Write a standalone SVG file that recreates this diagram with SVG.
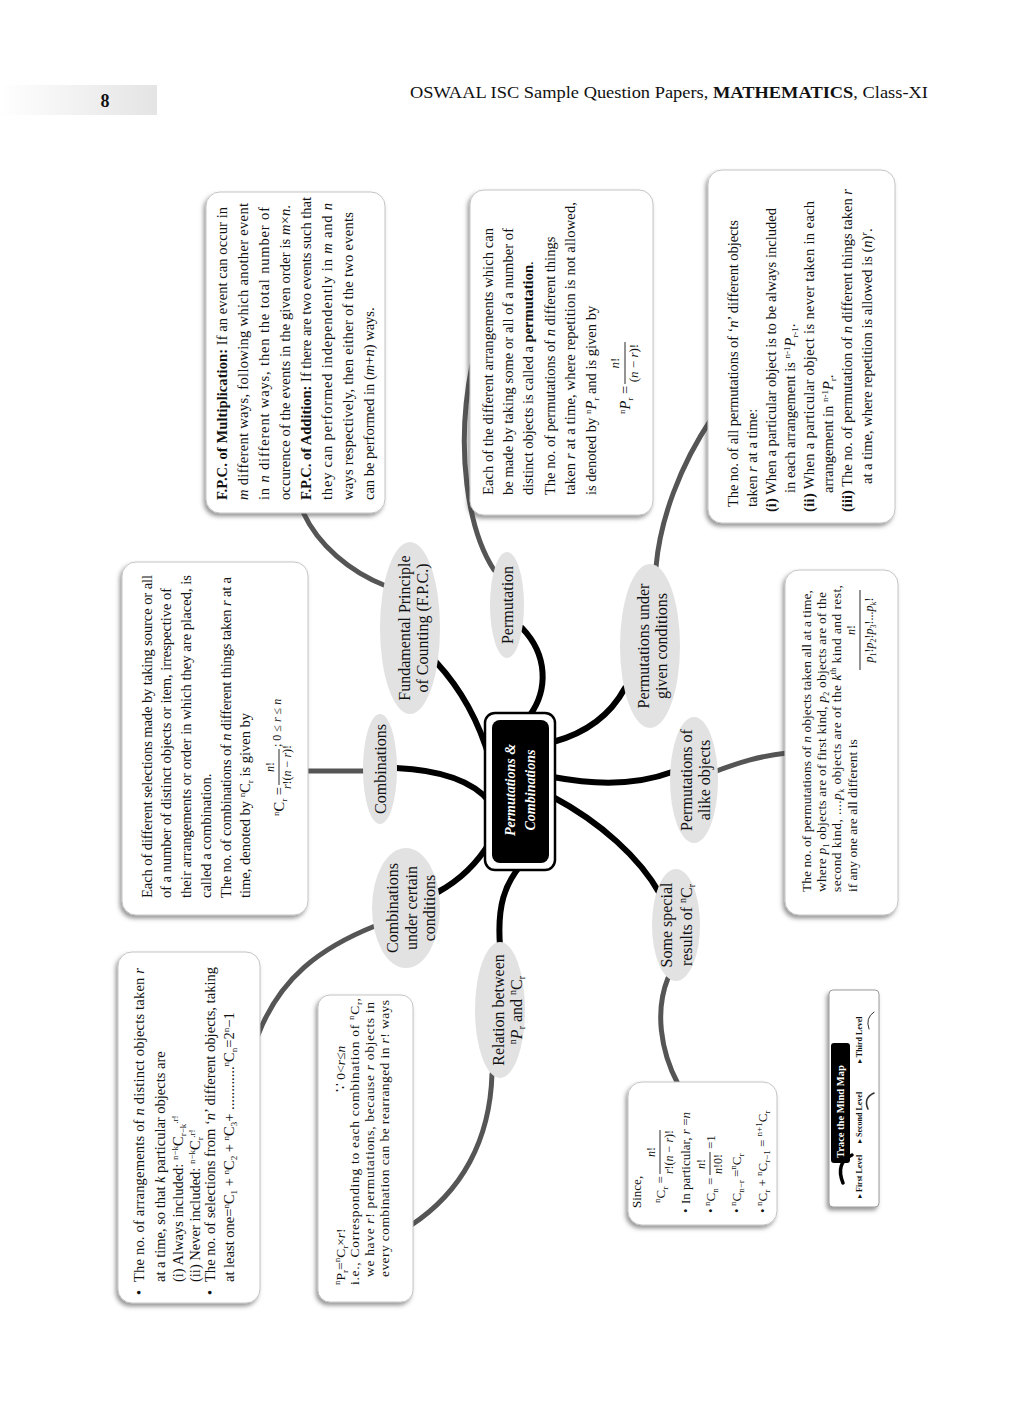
<svg xmlns="http://www.w3.org/2000/svg" width="1024" height="1408" viewBox="0 0 1024 1408">
<defs>
<linearGradient id="hg" x1="0" y1="0" x2="1" y2="0"><stop offset="0" stop-color="#ffffff"/><stop offset="1" stop-color="#e4e4e4"/></linearGradient>
<filter id="sh" x="-15%" y="-15%" width="130%" height="130%"><feDropShadow dx="-2" dy="3" stdDeviation="2" flood-color="#444" flood-opacity="0.55"/></filter>
<style>
text{font-family:'Liberation Serif','DejaVu Serif',serif;fill:#111}
.f145{font-size:14.5px}.f135{font-size:13.5px}.f13{font-size:13px}.f12{font-size:12px}
.b{font-weight:bold}.i{font-style:italic}.mid{text-anchor:middle}
.el{font-size:16px;text-anchor:middle}
.box{fill:#fff;stroke:#c4c4c4;stroke-width:1;filter:url(#sh)}
.node{fill:#e2e2e2}
.bk{fill:none;stroke:#000;stroke-width:6;stroke-linecap:round}
.gr{fill:none;stroke:#555;stroke-width:5;stroke-linecap:round}
.frac{stroke:#111;stroke-width:0.9}
</style>
</defs>
<rect width="1024" height="1408" fill="#fff"/>

<g id="header">
<rect x="0" y="85" width="157" height="30" fill="url(#hg)"/>
<text x="105" y="107" font-size="18" font-weight="bold" text-anchor="middle">8</text>
<text x="410" y="98" font-size="17" textLength="518" lengthAdjust="spacingAndGlyphs">OSWAAL ISC Sample Question Papers, <tspan font-weight="bold">MATHEMATICS</tspan>, Class-XI</text>
</g>

<g id="connectors">
<path class="gr" d="M 386 586 C 350 572, 318 545, 303 512"/>
<path class="gr" d="M 494 570 C 468 530, 455 450, 472 365"/>
<path class="gr" d="M 656 567 C 660 520, 680 465, 712 418"/>
<path class="gr" d="M 366 771 L 306 771"/>
<path class="gr" d="M 714 772 C 740 762, 760 756, 787 753"/>
<path class="gr" d="M 375 926 C 320 948, 280 978, 258 1035"/>
<path class="gr" d="M 492 1074 C 490 1140, 462 1192, 410 1226"/>
<path class="gr" d="M 668 978 C 655 1010, 660 1050, 678 1084"/>
<path class="bk" d="M 436 662 C 462 690, 480 725, 490 760"/>
<path class="bk" d="M 522 628 C 548 655, 548 690, 530 715"/>
<path class="bk" d="M 553 742 C 590 732, 612 712, 625 688"/>
<path class="bk" d="M 553 777 C 600 786, 640 784, 672 772"/>
<path class="bk" d="M 553 797 C 600 822, 640 858, 660 894"/>
<path class="bk" d="M 396 768 C 440 770, 472 780, 490 802"/>
<path class="bk" d="M 438 892 C 460 880, 478 862, 490 842"/>
<path class="bk" d="M 500 946 C 497 905, 505 885, 520 866"/>
</g>

<g id="center">
<rect x="485" y="713" width="70" height="157" rx="10" fill="#fff" stroke="#000" stroke-width="2.5"/>
<rect x="492" y="720" width="57" height="143" rx="8" fill="#000"/>
<g transform="matrix(0,-1,1,0,0,1408)">
<text x="618" y="515" class="mid b i" font-size="14" style="fill:#fff">Permutations &amp;</text>
<text x="618" y="535" class="mid b i" font-size="14" style="fill:#fff">Combinations</text>
</g>
</g>

<g id="node-fpc">
<ellipse class="node" cx="410" cy="628" rx="30" ry="86"/>
<g transform="matrix(0,-1,1,0,0,1408)">
<text class="el" x="780" y="410">Fundamental Principle</text>
<text class="el" x="780" y="428">of Counting (F.P.C.)</text>
</g>
</g>

<g id="node-permutation">
<ellipse class="node" cx="507" cy="605" rx="17" ry="53"/>
<g transform="matrix(0,-1,1,0,0,1408)">
<text class="el" x="803" y="513">Permutation</text>
</g>
</g>

<g id="node-perm-cond">
<ellipse class="node" cx="650" cy="646" rx="30" ry="82"/>
<g transform="matrix(0,-1,1,0,0,1408)">
<text class="el" x="762" y="649">Permutations under</text>
<text class="el" x="762" y="667">given conditions</text>
</g>
</g>

<g id="node-combinations">
<ellipse class="node" cx="380" cy="769" rx="17" ry="55"/>
<g transform="matrix(0,-1,1,0,0,1408)">
<text class="el" x="639" y="386">Combinations</text>
</g>
</g>

<g id="node-alike">
<ellipse class="node" cx="694" cy="780" rx="24" ry="63"/>
<g transform="matrix(0,-1,1,0,0,1408)">
<text class="el" x="628" y="692">Permutations of</text>
<text class="el" x="628" y="710">alike objects</text>
</g>
</g>

<g id="node-comb-cond">
<ellipse class="node" cx="406" cy="908" rx="34" ry="60"/>
<g transform="matrix(0,-1,1,0,0,1408)">
<text class="el" x="500" y="398">Combinations</text>
<text class="el" x="500" y="417">under certain</text>
<text class="el" x="500" y="435">conditions</text>
</g>
</g>

<g id="node-relation">
<ellipse class="node" cx="500" cy="1010" rx="25" ry="68"/>
<g transform="matrix(0,-1,1,0,0,1408)">
<text class="el" x="398" y="504">Relation between</text>
<text class="el" x="398" y="522"><tspan font-size="10" dy="-6">n</tspan><tspan class="i" dy="6">P</tspan><tspan font-size="10" dy="3">r</tspan><tspan dy="-3"> and </tspan><tspan font-size="10" dy="-6">n</tspan><tspan dy="6">C</tspan><tspan font-size="10" dy="3">r</tspan></text>
</g>
</g>

<g id="node-special">
<ellipse class="node" cx="676" cy="925" rx="24" ry="56"/>
<g transform="matrix(0,-1,1,0,0,1408)">
<text class="el" x="483" y="672">Some special</text>
<text class="el" x="483" y="692">results of <tspan font-size="10" dy="-6">n</tspan><tspan dy="6">C</tspan><tspan font-size="10" dy="3">r</tspan></text>
</g>
</g>

<g id="box-fpc">
<rect class="box" x="206" y="192" width="179" height="321" rx="14"/>
<g transform="matrix(0,-1,1,0,0,1408)" class="f145">
<text x="908" y="227" textLength="293"><tspan class="b">F.P.C. of Multiplication:</tspan> If an event can occur in</text>
<text x="908" y="248" textLength="297"><tspan class="i">m</tspan> different ways, following which another event</text>
<text x="908" y="269" textLength="293">in <tspan class="i">n</tspan> different ways, then the total number of</text>
<text x="908" y="290" textLength="295">occurence of the events in the given order is <tspan class="i">m</tspan>×<tspan class="i">n</tspan>.</text>
<text x="908" y="311" textLength="303"><tspan class="b">F.P.C. of Addition:</tspan> If there are two events such that</text>
<text x="908" y="332" textLength="297">they can performed independently in <tspan class="i">m</tspan> and <tspan class="i">n</tspan></text>
<text x="908" y="353" textLength="288">ways respectively, then either of the two events</text>
<text x="908" y="374">can be performed in (<tspan class="i">m</tspan>+<tspan class="i">n</tspan>) ways.</text>
</g>
</g>

<g id="box-permutation">
<rect class="box" x="470" y="190" width="183" height="325" rx="14"/>
<g transform="matrix(0,-1,1,0,0,1408)" class="f145">
<text x="913" y="493" textLength="267">Each of the different arrangements which can</text>
<text x="913" y="513" textLength="267">be made by taking some or all of a number of</text>
<text x="913" y="533">distinct objects is called a <tspan class="b">permutation</tspan>.</text>
<text x="913" y="555">The no. of permutations of <tspan class="i">n</tspan> different things</text>
<text x="913" y="575" textLength="293">taken <tspan class="i">r</tspan> at a time, where repetition is not allowed,</text>
<text x="913" y="596">is denoted by <tspan font-size="9" dy="-5">n</tspan><tspan class="i" dy="5">P</tspan><tspan font-size="9" dy="3">r</tspan><tspan dy="-3"> and is given by</tspan></text>
<text x="994" y="630"><tspan font-size="9" dy="-5">n</tspan><tspan class="i" dy="5">P</tspan><tspan font-size="9" dy="3">r</tspan><tspan dy="-3"> =</tspan></text>
<line class="frac" x1="1024" y1="625" x2="1066" y2="625"/>
<text class="mid" x="1045" y="619" font-size="13"><tspan class="i">n</tspan>!</text>
<text class="mid" x="1045" y="638" font-size="13">(<tspan class="i">n</tspan> − <tspan class="i">r</tspan>)!</text>
</g>
</g>

<g id="box-perm-cond">
<rect class="box" x="708" y="170" width="187" height="353" rx="14"/>
<g transform="matrix(0,-1,1,0,0,1408)" class="f145">
<text x="901" y="738" textLength="287">The no. of all permutations of ‘<tspan class="i">n</tspan>’ different objects</text>
<text x="901" y="757">taken <tspan class="i">r</tspan> at a time:</text>
<text x="896" y="776" textLength="304"><tspan class="b">(i)</tspan> When a particular object is to be always included</text>
<text x="915" y="795">in each arrangement is <tspan font-size="9" dy="-5">n-1</tspan><tspan class="i" dy="5">P</tspan><tspan font-size="9" dy="3">r-1</tspan><tspan dy="-3">.</tspan></text>
<text x="896" y="814" textLength="311"><tspan class="b">(ii)</tspan> When a particular object is never taken in each</text>
<text x="915" y="833">arrangement in <tspan font-size="9" dy="-5">n-1</tspan><tspan class="i" dy="5">P</tspan><tspan font-size="9" dy="3">r</tspan><tspan dy="-3">.</tspan></text>
<text x="896" y="852" textLength="323"><tspan class="b">(iii)</tspan> The no. of permutation of <tspan class="i">n</tspan> different things taken <tspan class="i">r</tspan></text>
<text x="924" y="872">at a time, where repetition is allowed is (<tspan class="i">n</tspan>)<tspan font-size="9" dy="-5" class="i">r</tspan><tspan dy="5">.</tspan></text>
</g>
</g>

<g id="box-combinations">
<rect class="box" x="122" y="562" width="186" height="353" rx="14"/>
<g transform="matrix(0,-1,1,0,0,1408)" class="f145">
<text x="510" y="152" textLength="323">Each of different selections made by taking source or all</text>
<text x="510" y="171" textLength="310">of a number of distinct objects or item, irrespective of</text>
<text x="510" y="191" textLength="323">their arrangements or order in which they are placed, is</text>
<text x="510" y="211">called a combination.</text>
<text x="510" y="231" textLength="321">The no. of combinations of <tspan class="i">n</tspan> different things taken <tspan class="i">r</tspan> at a</text>
<text x="510" y="250">time, denoted by <tspan font-size="9" dy="-5">n</tspan><tspan dy="5">C</tspan><tspan font-size="9" dy="3">r</tspan><tspan dy="-3"> is given by</tspan></text>
<text x="592" y="284"><tspan font-size="9" dy="-5">n</tspan><tspan dy="5">C</tspan><tspan font-size="9" dy="3">r</tspan><tspan dy="-3"> =</tspan></text>
<line class="frac" x1="623" y1="279" x2="659" y2="279"/>
<text class="mid f12" x="641" y="274"><tspan class="i">n</tspan>!</text>
<text class="mid f12" x="641" y="291"><tspan class="i">r</tspan>!(<tspan class="i">n</tspan> − <tspan class="i">r</tspan>)!</text>
<text class="f12" x="661" y="281">; 0 ≤ <tspan class="i">r</tspan> ≤ <tspan class="i">n</tspan></text>
</g>
</g>

<g id="box-alike">
<rect class="box" x="785" y="570" width="113" height="345" rx="14"/>
<g transform="matrix(0,-1,1,0,0,1408)" class="f135">
<text x="516" y="811" textLength="302">The no. of permutations of <tspan class="i">n</tspan> objects taken all at a time,</text>
<text x="516" y="826" textLength="300">where <tspan class="i">p</tspan><tspan font-size="8" dy="3">1</tspan><tspan dy="-3"> objects are of first kind, </tspan><tspan class="i">p</tspan><tspan font-size="8" dy="3">2</tspan><tspan dy="-3"> objects are of the</tspan></text>
<text x="516" y="841" textLength="307">second kind, ....<tspan class="i">p</tspan><tspan font-size="8" dy="3">k</tspan><tspan dy="-3"> objects are of the </tspan><tspan class="i">k</tspan><tspan font-size="8" dy="-5">th</tspan><tspan dy="5"> kind and rest,</tspan></text>
<text x="516" y="857">if any one are all different is</text>
<line class="frac" x1="738" y1="860" x2="818" y2="860"/>
<text class="mid f12" x="778" y="855"><tspan class="i">n</tspan>!</text>
<text class="mid f12" x="778" y="873"><tspan class="i">p</tspan><tspan font-size="8" dy="3">1</tspan><tspan dy="-3">!</tspan><tspan class="i">p</tspan><tspan font-size="8" dy="3">2</tspan><tspan dy="-3">!</tspan><tspan class="i">p</tspan><tspan font-size="8" dy="3">3</tspan><tspan dy="-3">!...</tspan><tspan class="i">p</tspan><tspan font-size="8" dy="3">k</tspan><tspan dy="-3">!</tspan></text>
</g>
</g>

<g id="box-comb-cond">
<rect class="box" x="118" y="952" width="142" height="351" rx="14"/>
<g transform="matrix(0,-1,1,0,0,1408)" class="f145">
<text x="113" y="144">•</text>
<text x="126" y="144" textLength="314">The no. of arrangements of <tspan class="i">n</tspan> distinct objects taken <tspan class="i">r</tspan></text>
<text x="126" y="165">at a time, so that <tspan class="i">k</tspan> particular objects are</text>
<text x="126" y="183">(i) Always included: <tspan font-size="9" dy="-5">n−k</tspan><tspan dy="5">C</tspan><tspan font-size="9" dy="3">r−k</tspan><tspan font-size="9" dy="-8">.r!</tspan></text>
<text x="126" y="200">(ii) Never included: <tspan font-size="9" dy="-5">n−k</tspan><tspan dy="5">C</tspan><tspan font-size="9" dy="3">r</tspan><tspan font-size="9" dy="-8">.r!</tspan></text>
<text x="113" y="215">•</text>
<text x="126" y="215" textLength="315">The no. of selections from ‘<tspan class="i">n</tspan>’ different objects, taking</text>
<text x="126" y="234">at least one=<tspan font-size="9" dy="-5">n</tspan><tspan dy="5">C</tspan><tspan font-size="9" dy="3">1</tspan><tspan dy="-3"> + </tspan><tspan font-size="9" dy="-5">n</tspan><tspan dy="5">C</tspan><tspan font-size="9" dy="3">2</tspan><tspan dy="-3"> + </tspan><tspan font-size="9" dy="-5">n</tspan><tspan dy="5">C</tspan><tspan font-size="9" dy="3">3</tspan><tspan dy="-3">+ ............</tspan><tspan font-size="9" dy="-5">n</tspan><tspan dy="5">C</tspan><tspan font-size="9" dy="3">n</tspan><tspan dy="-3">=2</tspan><tspan font-size="9" dy="-5">n</tspan><tspan dy="5">−1</tspan></text>
</g>
</g>

<g id="box-relation">
<rect class="box" x="318" y="995" width="95" height="307" rx="12"/>
<g transform="matrix(0,-1,1,0,0,1408)" class="f135">
<text x="123" y="345"><tspan font-size="9" dy="-5">n</tspan><tspan dy="5">P</tspan><tspan font-size="9" dy="3">r</tspan><tspan dy="-3">=</tspan><tspan font-size="9" dy="-5">n</tspan><tspan dy="5">C</tspan><tspan font-size="9" dy="3">r</tspan><tspan dy="-3">×</tspan><tspan class="i">r</tspan>!</text>
<text x="316" y="345">∵ 0&lt;<tspan class="i">r</tspan>≤<tspan class="i">n</tspan></text>
<text x="123" y="359" textLength="287">i.e., Corresponding to each combination of <tspan font-size="9" dy="-5">n</tspan><tspan dy="5">C</tspan><tspan font-size="9" dy="3">r</tspan><tspan dy="-3">,</tspan></text>
<text x="131" y="374" textLength="275">we have <tspan class="i">r</tspan>! permutations, because <tspan class="i">r</tspan> objects in</text>
<text x="131" y="389" textLength="277">every combination can be rearranged in <tspan class="i">r</tspan>! ways</text>
</g>
</g>

<g id="box-special">
<rect class="box" x="628" y="1082" width="149" height="143" rx="14"/>
<g transform="matrix(0,-1,1,0,0,1408)" class="f13">
<text x="200" y="641">Since,</text>
<text x="205" y="665"><tspan font-size="9" dy="-5">n</tspan><tspan dy="5">C</tspan><tspan font-size="9" dy="3">r</tspan><tspan dy="-3"> =</tspan></text>
<line class="frac" x1="234" y1="660" x2="278" y2="660"/>
<text class="mid f12" x="256" y="655"><tspan class="i">n</tspan>!</text>
<text class="mid f12" x="256" y="673"><tspan class="i">r</tspan>!(<tspan class="i">n</tspan> − <tspan class="i">r</tspan>)!</text>
<text x="195" y="690">•</text>
<text x="204" y="690">In particular, <tspan class="i">r</tspan> =<tspan class="i">n</tspan></text>
<text x="195" y="715">•</text>
<text x="202" y="715"><tspan font-size="9" dy="-5">n</tspan><tspan dy="5">C</tspan><tspan font-size="9" dy="3">n</tspan><tspan dy="-3"> =</tspan></text>
<line class="frac" x1="233" y1="710" x2="256" y2="710"/>
<text class="mid f12" x="244" y="705"><tspan class="i">n</tspan>!</text>
<text class="mid f12" x="244" y="722"><tspan class="i">n</tspan>!0!</text>
<text x="259" y="715">=1</text>
<text x="195" y="741">•</text>
<text x="202" y="741"><tspan font-size="9" dy="-5">n</tspan><tspan dy="5">C</tspan><tspan font-size="9" dy="3">n−r</tspan><tspan dy="-3"> =</tspan><tspan font-size="9" dy="-5">n</tspan><tspan dy="5">C</tspan><tspan font-size="9" dy="3">r</tspan></text>
<text x="195" y="767">•</text>
<text x="202" y="767"><tspan font-size="9" dy="-5">n</tspan><tspan dy="5">C</tspan><tspan font-size="9" dy="3">r</tspan><tspan dy="-3"> + </tspan><tspan font-size="9" dy="-5">n</tspan><tspan dy="5">C</tspan><tspan font-size="9" dy="3">r−1</tspan><tspan dy="-3"> = </tspan><tspan font-size="9" dy="-5">n+1</tspan><tspan dy="5">C</tspan><tspan font-size="9" dy="3">r</tspan></text>
</g>
</g>

<g id="legend">
<rect x="829" y="990" width="50" height="217" rx="4" fill="#fff" stroke="#9a9a9a" stroke-width="1" filter="url(#sh)"/>
<rect x="831" y="1043" width="19" height="120" rx="3" fill="#000"/>
<path d="M 852 1155 Q 835 1163 843 1183" fill="none" stroke="#000" stroke-width="3.5" stroke-linecap="round"/>
<path d="M 874 1093 Q 863 1098 868 1109" fill="none" stroke="#333" stroke-width="1.6" stroke-linecap="round"/>
<path d="M 874 1012 Q 865 1018 869 1029" fill="none" stroke="#333" stroke-width="1" stroke-linecap="round"/>
<g transform="matrix(0,-1,1,0,0,1408)">
<text x="250" y="844" font-size="10.5" font-weight="bold" style="fill:#fff">Trace the Mind Map</text>
<text x="210" y="862" font-size="8" font-weight="bold">▸ First Level</text>
<text x="265" y="862" font-size="8" font-weight="bold">▸ Second Level</text>
<text x="345" y="862" font-size="8" font-weight="bold">▸ Third Level</text>
</g>
</g>
</svg>
